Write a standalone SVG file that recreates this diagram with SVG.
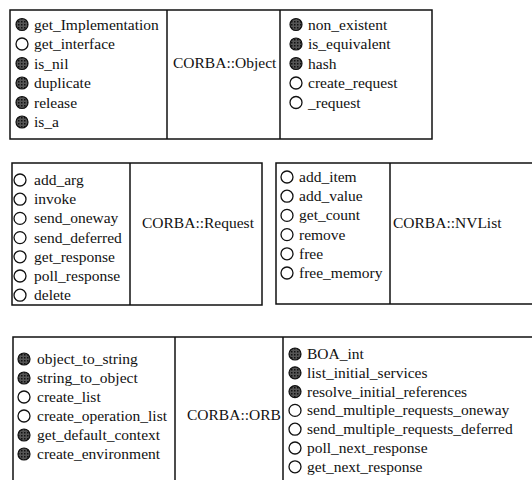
<svg xmlns="http://www.w3.org/2000/svg" width="532" height="480" viewBox="0 0 532 480">
  <defs>
    <pattern id="dots" width="3" height="3" patternUnits="userSpaceOnUse">
      <rect width="3" height="3" fill="#555"/>
      <rect x="0" y="0" width="1.5" height="1.5" fill="#111"/>
    </pattern>
    <style>
      .frame { fill: none; stroke: #111; stroke-width: 1.5; }
      .item { font-family: "Liberation Serif", "Times New Roman", serif; font-size: 15.5px; fill: #111; }
      .label { font-family: "Liberation Serif", "Times New Roman", serif; font-size: 15.5px; fill: #111; }
      .on { fill: url(#dots); stroke: #111; stroke-width: 1.2; }
      .off { fill: #fff; stroke: #111; stroke-width: 1.3; }
    </style>
  </defs>
  <rect width="532" height="480" fill="#fff"/>

  <!-- CORBA::Object -->
  <g id="object">
    <rect class="frame" x="10" y="10" width="422" height="129"/>
    <line class="frame" x1="167" y1="10" x2="167" y2="139"/>
    <line class="frame" x1="280" y1="10" x2="280" y2="139"/>
    <circle class="on" cx="22" cy="24.5" r="6"/><text class="item" x="34" y="29.5">get_Implementation</text>
    <circle class="off" cx="22" cy="44" r="6"/><text class="item" x="34" y="49">get_interface</text>
    <circle class="on" cx="22" cy="63.5" r="6"/><text class="item" x="34" y="68.5">is_nil</text>
    <circle class="on" cx="22" cy="83" r="6"/><text class="item" x="34" y="88">duplicate</text>
    <circle class="on" cx="22" cy="102.5" r="6"/><text class="item" x="34" y="107.5">release</text>
    <circle class="on" cx="22" cy="122" r="6"/><text class="item" x="34" y="127">is_a</text>
    <text class="label" x="173" y="68">CORBA::Object</text>
    <circle class="on" cx="296" cy="24.5" r="6"/><text class="item" x="308" y="29.5">non_existent</text>
    <circle class="on" cx="296" cy="44" r="6"/><text class="item" x="308" y="49">is_equivalent</text>
    <circle class="on" cx="296" cy="63.5" r="6"/><text class="item" x="308" y="68.5">hash</text>
    <circle class="off" cx="296" cy="83" r="6"/><text class="item" x="308" y="88">create_request</text>
    <circle class="off" cx="296" cy="102.5" r="6"/><text class="item" x="308" y="107.5">_request</text>
  </g>

  <!-- CORBA::Request -->
  <g id="request">
    <rect class="frame" x="12" y="163" width="250" height="142"/>
    <line class="frame" x1="130" y1="163" x2="130" y2="305"/>
    <circle class="off" cx="20" cy="180" r="6"/><text class="item" x="34" y="185">add_arg</text>
    <circle class="off" cx="20" cy="199.2" r="6"/><text class="item" x="34" y="204.2">invoke</text>
    <circle class="off" cx="20" cy="218.4" r="6"/><text class="item" x="34" y="223.4">send_oneway</text>
    <circle class="off" cx="20" cy="237.6" r="6"/><text class="item" x="34" y="242.6">send_deferred</text>
    <circle class="off" cx="20" cy="256.8" r="6"/><text class="item" x="34" y="261.8">get_response</text>
    <circle class="off" cx="20" cy="276" r="6"/><text class="item" x="34" y="281">poll_response</text>
    <circle class="off" cx="20" cy="295.2" r="6"/><text class="item" x="34" y="300.2">delete</text>
    <text class="label" x="142" y="228">CORBA::Request</text>
  </g>

  <!-- CORBA::NVList -->
  <g id="nvlist">
    <path class="frame" d="M533 163 H276 V304 H533"/>
    <line class="frame" x1="390" y1="163" x2="390" y2="304"/>
    <circle class="off" cx="287" cy="177" r="6"/><text class="item" x="299" y="182">add_item</text>
    <circle class="off" cx="287" cy="196.2" r="6"/><text class="item" x="299" y="201.2">add_value</text>
    <circle class="off" cx="287" cy="215.4" r="6"/><text class="item" x="299" y="220.4">get_count</text>
    <circle class="off" cx="287" cy="234.6" r="6"/><text class="item" x="299" y="239.6">remove</text>
    <circle class="off" cx="287" cy="253.8" r="6"/><text class="item" x="299" y="258.8">free</text>
    <circle class="off" cx="287" cy="273" r="6"/><text class="item" x="299" y="278">free_memory</text>
    <text class="label" x="393" y="228">CORBA::NVList</text>
  </g>

  <!-- CORBA::ORB -->
  <g id="orb">
    <path class="frame" d="M13 481 V337 H533"/>
    <line class="frame" x1="175" y1="337" x2="175" y2="481"/>
    <line class="frame" x1="283" y1="337" x2="283" y2="481"/>
    <circle class="on" cx="24" cy="359" r="6"/><text class="item" x="37" y="364">object_to_string</text>
    <circle class="on" cx="24" cy="378" r="6"/><text class="item" x="37" y="383">string_to_object</text>
    <circle class="off" cx="24" cy="397" r="6"/><text class="item" x="37" y="402">create_list</text>
    <circle class="off" cx="24" cy="416" r="6"/><text class="item" x="37" y="421">create_operation_list</text>
    <circle class="on" cx="24" cy="435" r="6"/><text class="item" x="37" y="440">get_default_context</text>
    <circle class="on" cx="24" cy="454" r="6"/><text class="item" x="37" y="459">create_environment</text>
    <text class="label" x="187" y="420">CORBA::ORB</text>
    <circle class="on" cx="295" cy="354" r="6"/><text class="item" x="307" y="359">BOA_int</text>
    <circle class="on" cx="295" cy="372.8" r="6"/><text class="item" x="307" y="377.8">list_initial_services</text>
    <circle class="on" cx="295" cy="391.6" r="6"/><text class="item" x="307" y="396.6">resolve_initial_references</text>
    <circle class="off" cx="295" cy="410.4" r="6"/><text class="item" x="307" y="415.4">send_multiple_requests_oneway</text>
    <circle class="off" cx="295" cy="429.2" r="6"/><text class="item" x="307" y="434.2">send_multiple_requests_deferred</text>
    <circle class="off" cx="295" cy="448" r="6"/><text class="item" x="307" y="453">poll_next_response</text>
    <circle class="off" cx="295" cy="466.8" r="6"/><text class="item" x="307" y="471.8">get_next_response</text>
  </g>
</svg>
